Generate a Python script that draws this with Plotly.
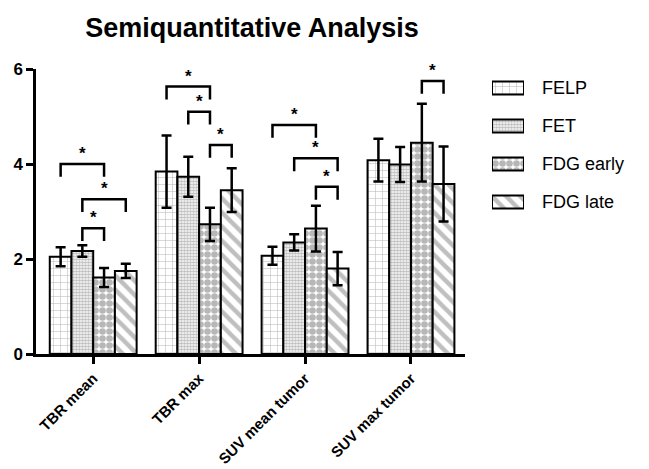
import plotly.graph_objects as go

categories = ["TBR mean", "TBR max", "SUV mean tumor", "SUV max tumor"]
series = ["FELP", "FET", "FDG early", "FDG late"]
means = {
    "FELP":      [2.05, 3.84, 2.07, 4.08],
    "FET":       [2.17, 3.73, 2.35, 3.99],
    "FDG early": [1.61, 2.73, 2.64, 4.45],
    "FDG late":  [1.75, 3.45, 1.80, 3.58],
}
errors = {
    "FELP":      [0.20, 0.76, 0.19, 0.45],
    "FET":       [0.12, 0.42, 0.17, 0.37],
    "FDG early": [0.20, 0.35, 0.48, 0.82],
    "FDG late":  [0.15, 0.46, 0.35, 0.79],
}
# significance brackets: (category index, bar a, bar b, bracket height)
brackets = [
    (0, 0, 2, 4.00), (0, 1, 3, 3.26), (0, 1, 2, 2.65),
    (1, 0, 2, 5.63), (1, 1, 2, 5.10), (1, 2, 3, 4.40),
    (2, 0, 2, 4.82), (2, 1, 3, 4.12), (2, 2, 3, 3.52),
    (3, 2, 3, 5.75),
]

patterns = {
    "FELP":      dict(shape="+", size=7, solidity=0.15, fgcolor="#707070", bgcolor="white"),
    "FET":       dict(shape=".", size=3, solidity=0.65, fgcolor="#808080", bgcolor="white"),
    "FDG early": dict(shape=".", size=7, solidity=0.7, fgcolor="#707070", bgcolor="white"),
    "FDG late":  dict(shape="\\", size=10, solidity=0.45, fgcolor="#808080", bgcolor="white"),
}

FONT = "Arial, Liberation Sans, sans-serif"
W, H = 649, 469
L, R, T, B = 36, 10, 69, 115
plot_w = W - L - R
main_right = 429 / plot_w

bargap = 0.18
n = len(series)
w = (1 - bargap) / n

fig = go.Figure()
xs = list(range(len(categories)))
for s in series:
    fig.add_trace(go.Bar(
        x=xs, y=means[s], name=s, showlegend=False,
        marker=dict(color="white", line=dict(color="black", width=2), pattern=patterns[s]),
        error_y=dict(type="data", array=errors[s], color="black", thickness=2.5, width=5),
        xaxis="x", yaxis="y",
    ))

# legend swatches drawn as horizontal bars in a small side panel
for i, s in enumerate(series):
    fig.add_trace(go.Bar(
        x=[1], y=[i], orientation="h", width=0.34, showlegend=False, hoverinfo="skip",
        marker=dict(color="white", line=dict(color="black", width=2), pattern=patterns[s]),
        xaxis="x2", yaxis="y2",
    ))
    fig.add_annotation(x=(540 - L) / plot_w, y=i, xref="paper", yref="y2", text=s,
                       showarrow=False, xanchor="left", yanchor="middle",
                       font=dict(family=FONT, size=18, color="black"))

leg = 0.27
for (c, a, b, h) in brackets:
    xa = c + (a - (n - 1) / 2) * w
    xb = c + (b - (n - 1) / 2) * w
    fig.add_shape(type="path", xref="x", yref="y",
                  path=f"M {xa},{h-leg} L {xa},{h} L {xb},{h} L {xb},{h-leg}",
                  line=dict(color="black", width=2.5))
    fig.add_annotation(x=(xa + xb) / 2, y=h, xref="x", yref="y", text="<b>*</b>",
                       showarrow=False, yanchor="bottom", yshift=-1,
                       font=dict(family=FONT, size=17, color="black"))

fig.update_layout(
    width=W, height=H,
    barmode="group", bargap=bargap, bargroupgap=0,
    plot_bgcolor="white", paper_bgcolor="white",
    margin=dict(l=L, r=R, t=T, b=B, autoexpand=False),
    title=dict(text="<b>Semiquantitative Analysis</b>", x=252 / W, xanchor="center",
               y=1 - 28 / H, yanchor="middle",
               font=dict(family=FONT, size=27, color="black")),
    font=dict(family=FONT, color="black"),
    showlegend=False,
    xaxis=dict(domain=[0, main_right], range=[-0.54, 3.51], tickvals=xs, ticktext=categories,
               tickangle=-45, showline=True, linecolor="black", linewidth=2.5, ticks="outside",
               ticklen=7, tickwidth=2.5, tickcolor="black", showgrid=False, zeroline=False,
               automargin=False,
               tickfont=dict(family=FONT, size=15, color="black", weight="bold")),
    yaxis=dict(range=[0, 6], tickvals=[0, 2, 4, 6], showline=True, linecolor="black",
               linewidth=2.5, ticks="outside", ticklen=7, tickwidth=2.5, tickcolor="black",
               showgrid=False, zeroline=False, automargin=False,
               tickfont=dict(family=FONT, size=17, color="black", weight="bold")),
    xaxis2=dict(domain=[(492 - L) / plot_w, (524 - L) / plot_w], range=[0, 1], visible=False,
                anchor="y2", fixedrange=True),
    yaxis2=dict(domain=[(354 - 221) / (H - T - B), 1.0], range=[3.5, -0.5], visible=False,
                anchor="x2", fixedrange=True),
)

fig.write_html("out.html", config={"displayModeBar": False},
               post_script="document.body.style.margin='0';")
